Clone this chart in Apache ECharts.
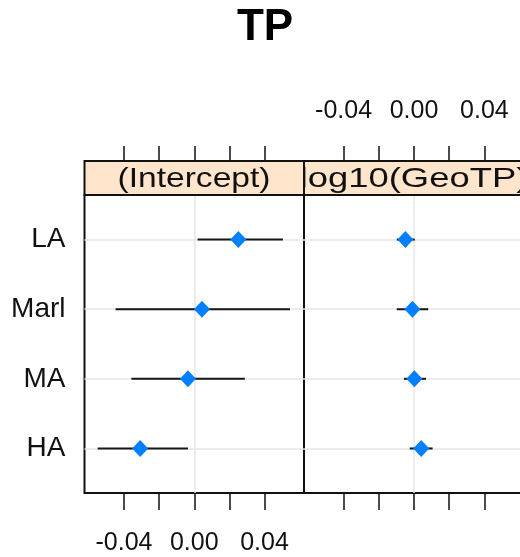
<!DOCTYPE html>
<html>
<head>
<meta charset="utf-8">
<script src="https://cdn.jsdelivr.net/npm/echarts@6/dist/echarts.min.js"></script>
<style>html,body{margin:0;padding:0;background:#fff}#c{width:520px;height:557px}</style>
</head>
<body>
<div id="c"></div>
<script>
// ---- data ----
const title = 'TP';
const panels = ['(Intercept)', 'log10(GeoTP)'];
const categories = ['LA', 'Marl', 'MA', 'HA']; // top to bottom
const interceptEst = [0.0251, 0.0044, -0.0036, -0.0308];
const interceptLo  = [0.0019, -0.0448, -0.0358, -0.0550];
const interceptHi  = [0.0505, 0.0545, 0.0288, -0.0036];
const slopeEst = [-0.0049, -0.0009, 0.0002, 0.0041];
const slopeLo  = [-0.0098, -0.0098, -0.0057, -0.0024];
const slopeHi  = [0.0004, 0.0081, 0.0068, 0.0106];
const tickValues = [-0.04, -0.02, 0, 0.02, 0.04];
const tickLabels = [-0.04, 0, 0.04];

// ---- build ----
const n = categories.length;
const yPos = i => n - i; // top category gets highest value
const FONT = 'Liberation Sans, Arial, sans-serif';
const gridTop = 195, gridH = 298;
const grids = [
  {left: 84.5, top: gridTop, width: 219.5, height: gridH, show: true, borderColor: '#111', borderWidth: 2, backgroundColor: 'transparent', containLabel: false, outerBoundsMode: 'none'},
  {left: 304, top: gridTop, width: 220, height: gridH, show: true, borderColor: '#111', borderWidth: 2, backgroundColor: 'transparent', containLabel: false, outerBoundsMode: 'none'}
];
const xRange = {min: -0.0625, max: 0.0625};
function xAx(gi, pos, labels) {
  return {
    type: 'value', gridIndex: gi, position: pos, min: xRange.min, max: xRange.max,
    offset: pos === 'top' ? 34 : 0,
    axisLine: {show: false},
    splitLine: {show: false},
    axisTick: {show: true, inside: false, length: pos === 'top' ? 15 : 17, customValues: tickValues, lineStyle: {color: '#111', width: 1.5}},
    axisLabel: labels ? {show: true, customValues: tickLabels, formatter: v => v.toFixed(2), fontFamily: FONT, fontSize: 25, color: '#111', margin: pos === 'top' ? 37 : 38} : {show: false}
  };
}
const yRange = {min: 0.36, max: n + 0.64};
function yAx(gi, labels) {
  return {
    type: 'value', gridIndex: gi, min: yRange.min, max: yRange.max,
    axisLine: {show: false}, axisTick: {show: false}, splitLine: {show: false},
    axisLabel: labels ? {show: true, customValues: categories.map((c, i) => yPos(i)), formatter: v => categories[n - Math.round(v)], fontFamily: FONT, fontSize: 28, color: '#111', margin: 19} : {show: false}
  };
}
function refSeries(gi) {
  return {
    type: 'scatter', xAxisIndex: gi === 0 ? 0 : 2, yAxisIndex: gi, data: [], z: 1, silent: true,
    markLine: {
      silent: true, symbol: 'none', label: {show: false}, animation: false, z: 1,
      lineStyle: {color: '#e6e6e6', width: 1.5, type: 'solid'},
      data: categories.map((c, i) => ({yAxis: yPos(i)})).concat([{xAxis: 0}])
    }
  };
}
function barSeries(gi, lo, hi) {
  return {
    type: 'custom', xAxisIndex: gi === 0 ? 0 : 2, yAxisIndex: gi, z: 3, silent: true,
    data: categories.map((c, i) => [lo[i], hi[i], yPos(i)]),
    renderItem: (params, api) => {
      const a = api.coord([api.value(0), api.value(2)]);
      const b = api.coord([api.value(1), api.value(2)]);
      return {type: 'rect', shape: {x: a[0], y: a[1] - 1, width: b[0] - a[0], height: 2}, style: {fill: '#161616', opacity: 1}};
    }
  };
}
function ptSeries(gi, est) {
  return {
    type: 'scatter', xAxisIndex: gi === 0 ? 0 : 2, yAxisIndex: gi, z: 4,
    symbol: 'diamond', symbolSize: [16, 17],
    itemStyle: {color: '#0080ff', opacity: 1},
    data: categories.map((c, i) => [est[i], yPos(i)])
  };
}
const stripY = 161, stripH = 34;
const graphic = [
  {type: 'text', x: 265, y: 28, z: 10, style: {text: title, font: 'bold 44px ' + FONT, fill: '#000', textAlign: 'center', textVerticalAlign: 'middle'}},
  {type: 'rect', z: 10, shape: {x: 304, y: stripY, width: 220, height: stripH}, style: {fill: '#ffe5cc', stroke: '#111', lineWidth: 2}},
  {type: 'text', z: 11, x: 414, y: stripY + stripH / 2 + 1, scaleX: 1.3, style: {text: panels[1], font: '28px ' + FONT, fill: '#111', textAlign: 'center', textVerticalAlign: 'middle'}},
  {type: 'rect', z: 12, shape: {x: 84.5, y: stripY, width: 219.5, height: stripH}, style: {fill: '#ffe5cc', stroke: '#111', lineWidth: 2}},
  {type: 'text', z: 13, x: 194, y: stripY + stripH / 2 + 1, scaleX: 1.2, style: {text: panels[0], font: '28px ' + FONT, fill: '#111', textAlign: 'center', textVerticalAlign: 'middle'}}
];
const chart = echarts.init(document.getElementById('c'), null, {renderer: 'canvas'});
chart.setOption({
  animation: false,
  backgroundColor: '#fff',
  grid: grids,
  xAxis: [xAx(0, 'bottom', true), xAx(0, 'top', false), xAx(1, 'bottom', false), xAx(1, 'top', true)],
  yAxis: [yAx(0, true), yAx(1, false)],
  series: [
    refSeries(0), refSeries(1),
    barSeries(0, interceptLo, interceptHi), barSeries(1, slopeLo, slopeHi),
    ptSeries(0, interceptEst), ptSeries(1, slopeEst)
  ],
  graphic: graphic
});
</script>
</body>
</html>
